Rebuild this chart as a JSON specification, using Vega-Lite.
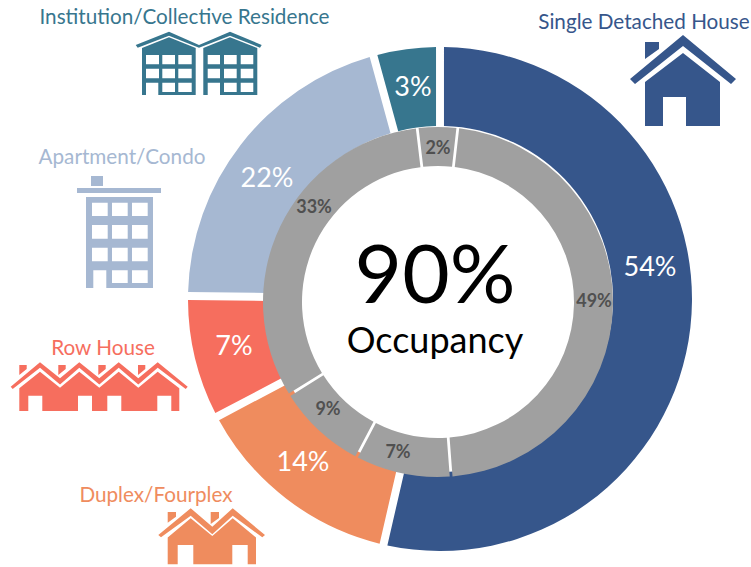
{"$schema":"https://vega.github.io/schema/vega-lite/v6.json","width":751,"height":567,"padding":0,"autosize":{"type":"fit","contains":"padding"},"background":"white","view":{"stroke":null},"config":{"font":"Lato"},
"datasets":{"dwelling":[{"ring":1,"n":1,"category":"Single Detached House","share":53.6,"label":"54%"},{"ring":1,"n":2,"category":"Duplex/Fourplex","share":13.67,"label":"14%"},{"ring":1,"n":3,"category":"Row House","share":7.92,"label":"7%"},{"ring":1,"n":4,"category":"Apartment/Condo","share":20.56,"label":"22%"},{"ring":1,"n":5,"category":"Institution/Collective Residence","share":4.25,"label":"3%"}],
"occupancy":[{"ring":2,"n":1,"category":"Single Detached House","share":47,"label":"49%"},{"ring":2,"n":2,"category":"Duplex/Fourplex","share":8.9,"label":"7%"},{"ring":2,"n":3,"category":"Row House","share":8.4,"label":"9%"},{"ring":2,"n":4,"category":"Apartment/Condo","share":32,"label":"33%"},{"ring":2,"n":5,"category":"Institution/Collective Residence","share":3.7,"label":"2%"}],
"center":[{"n":1,"text":"90%"},{"n":2,"text":"Occupancy"}]},
"resolve":{"scale":{"x":"independent","y":"independent","theta":"independent","color":"independent","shape":"independent"}},
"layer":[
{"data":{"name":"dwelling"},"mark":{"type":"arc","radius":252,"radius2":173,"padAngle":0.026},"encoding":{"theta":{"field":"share","type":"quantitative","stack":true,"scale":{"domain":[0,100],"range":[0,6.2832]}},"order":{"field":"n","type":"quantitative"},"x":{"field":"ring","type":"quantitative","axis":null,"scale":{"domain":[1,2],"range":[440,438],"zero":false,"nice":false}},"y":{"field":"ring","type":"quantitative","axis":null,"scale":{"domain":[1,2],"range":[299,302],"zero":false,"nice":false}},"color":{"field":"category","type":"nominal","legend":null,"scale":{"domain":["Single Detached House","Duplex/Fourplex","Row House","Apartment/Condo","Institution/Collective Residence"],"range":["#36568b","#ef8c5e","#f66e5e","#a6b8d2","#37768e"]}}}},
{"data":{"name":"occupancy"},"mark":{"type":"arc","radius":175,"radius2":136,"padAngle":0.0125,"color":"#a0a0a0"},"encoding":{"theta":{"field":"share","type":"quantitative","stack":true,"scale":{"domain":[0,100],"range":[0.1134,6.3966]}},"order":{"field":"n","type":"quantitative"},"x":{"field":"ring","type":"quantitative","axis":null,"scale":{"domain":[1,2],"range":[440,438],"zero":false,"nice":false}},"y":{"field":"ring","type":"quantitative","axis":null,"scale":{"domain":[1,2],"range":[299,302],"zero":false,"nice":false}}}},
{"data":{"name":"dwelling"},"mark":{"type":"text","fontSize":27,"color":"white","align":"center","baseline":"middle"},"encoding":{"text":{"field":"label"},"x":{"field":"n","type":"quantitative","axis":null,"scale":{"domain":[1,2,3,4,5],"range":[650,303,234,267,413],"zero":false,"nice":false}},"y":{"field":"n","type":"quantitative","axis":null,"scale":{"domain":[1,2,3,4,5],"range":[268,463,347,179,88],"zero":false,"nice":false}}}},
{"data":{"name":"occupancy"},"mark":{"type":"text","fontSize":18,"fontWeight":"bold","color":"#505050","align":"center","baseline":"middle"},"encoding":{"text":{"field":"label"},"x":{"field":"n","type":"quantitative","axis":null,"scale":{"domain":[1,2,3,4,5],"range":[594,398,328,314,438],"zero":false,"nice":false}},"y":{"field":"n","type":"quantitative","axis":null,"scale":{"domain":[1,2,3,4,5],"range":[302,453,410,208,149],"zero":false,"nice":false}}}},
{"data":{"name":"center"},"mark":{"type":"text","color":"black","align":"center","baseline":"middle"},"encoding":{"text":{"field":"text"},"size":{"field":"n","type":"quantitative","legend":null,"scale":{"domain":[1,2],"range":[82,36],"zero":false,"nice":false}},"x":{"field":"n","type":"quantitative","axis":null,"scale":{"domain":[1,2],"range":[435,435],"zero":false,"nice":false}},"y":{"field":"n","type":"quantitative","axis":null,"scale":{"domain":[1,2],"range":[278,342],"zero":false,"nice":false}}}},
{"data":{"name":"dwelling"},"mark":{"type":"text","fontSize":20.7,"align":"center","baseline":"middle"},"encoding":{"text":{"field":"category"},"x":{"field":"n","type":"quantitative","axis":null,"scale":{"domain":[1,2,3,4,5],"range":[644,156,103,122,184.5],"zero":false,"nice":false}},"y":{"field":"n","type":"quantitative","axis":null,"scale":{"domain":[1,2,3,4,5],"range":[23,496,349,158,18],"zero":false,"nice":false}},"color":{"field":"category","type":"nominal","legend":null,"scale":{"domain":["Single Detached House","Duplex/Fourplex","Row House","Apartment/Condo","Institution/Collective Residence"],"range":["#36568b","#ef8c5e","#f66e5e","#a6b8d2","#37768e"]}}}},
{"data":{"name":"dwelling"},"mark":{"type":"point","filled":true,"size":4,"opacity":1,"strokeWidth":0},"encoding":{"x":{"field":"n","type":"quantitative","axis":null,"scale":{"domain":[1,2,3,4,5],"range":[683,212,100,120,200],"zero":false,"nice":false}},"y":{"field":"n","type":"quantitative","axis":null,"scale":{"domain":[1,2,3,4,5],"range":[80,535,385,232,63],"zero":false,"nice":false}},"color":{"field":"category","type":"nominal","legend":null,"scale":{"domain":["Single Detached House","Duplex/Fourplex","Row House","Apartment/Condo","Institution/Collective Residence"],"range":["#36568b","#ef8c5e","#f66e5e","#a6b8d2","#37768e"]}},"shape":{"field":"category","type":"nominal","legend":null,"scale":{"domain":["Single Detached House","Duplex/Fourplex","Row House","Apartment/Condo","Institution/Collective Residence"],"range":[
"M0,-45L53,-1L48,4L0,-34L-48,4L-53,-1ZM-38,-38H-24V-31L-38,-21ZM0,-27L37,2V46H3V17H-20V46H-38V2Z",
"M-53.7,0L-21.3,-26.7L0.3,-8.3L20.7,-26.7L53,0L50.3,2.3L20.7,-19.3L0.3,-0.7L-21.3,-19.3L-51,2.3ZM-44.3,-23H-36V-18.3L-44.3,-12.3ZM-1.3,-23H7V-17L-1.3,-11ZM-21.3,-16.7L0.3,1L20.7,-16.7L44,2.4V29.3H35.7V10H20.3V29.3H-18.7V10H-34.3V29.3H-44.3V2.4Z",
"M-89.3,1.7L-60,-22.7L-40,-6.7L-20.7,-22.7L-0.7,-6.7L18.7,-22.7L38.3,-6.7L57.7,-22.7L87.7,1.7L85.7,4L57.7,-17.3L38.3,-0.5L18.7,-17.3L-0.7,-0.5L-20.7,-17.3L-40,-0.5L-60,-17.3L-87.3,4ZM-80.7,-20H-73.3V-16L-80.7,-10ZM-41.7,-20H-34.3V-16L-41.7,-10ZM-1.7,-20H5.7V-16L-1.7,-10ZM38,-20H45.3V-16L38,-10ZM-60,-13.3L-40,2.7L-20.7,-13.3L-0.7,2.7L18.7,-13.3L38.3,2.7L57.7,-13.3L79.3,3.3V26H71.3V10.7H57.3V26H21.3V10.7H7.3V26H-8V10.7H-22V26H-57.7V10.7H-71.7V26H-80.7V3.3Z",
"M-29,-56H-17V-46H-29ZM-43,-44H41V-39H-43ZM-34,-35H33V56H-13.7V38.3H-26.7V56H-34ZM-28,-29.3V-16H-12.3V-29.3ZM-8,-29.3V-16H7.7V-29.3ZM12,-29.3V-16H27.7V-29.3ZM-28,-7V6.7H-12.3V-7ZM-8,-7V6.7H7.7V-7ZM12,-7V6.7H27.7V-7ZM-28,15.7V29.3H-12.3V15.7ZM-8,15.7V29.3H7.7V15.7ZM12,15.7V29.3H27.7V15.7ZM-8,38.3V51H7.7V38.3ZM12,38.3V51H27.7V38.3Z",
"M-64.3,-18L-31,-31.3L-1,-18L30,-31.3L61.7,-18L60,-15.3L30,-27.3L-1,-15.3L-31,-27.3L-62.3,-15.3ZM-58,-15L-31,-25.7L-4.3,-15V32H-41.7V19.7H-54V32H-58ZM3.3,-15L30,-25.7L57.3,-15V32H20V19.7H7.7V32H3.3ZM-54,-8V1.3H-41V-8ZM-37.7,-8V1.3H-25V-8ZM-21.7,-8V1.3H-8.3V-8ZM-54,5.7V15.3H-41V5.7ZM-37.7,5.7V15.3H-25V5.7ZM-21.7,5.7V15.3H-8.3V5.7ZM-37.7,19.7V29H-25V19.7ZM-21.7,19.7V29H-8.3V19.7ZM7.7,-8V1.3H20V-8ZM24,-8V1.3H36.7V-8ZM40.7,-8V1.3H53.3V-8ZM7.7,5.7V15.3H20V5.7ZM24,5.7V15.3H36.7V5.7ZM40.7,5.7V15.3H53.3V5.7ZM24,19.7V29H36.7V19.7ZM40.7,19.7V29H53.3V19.7Z"
]}}}}
]}
